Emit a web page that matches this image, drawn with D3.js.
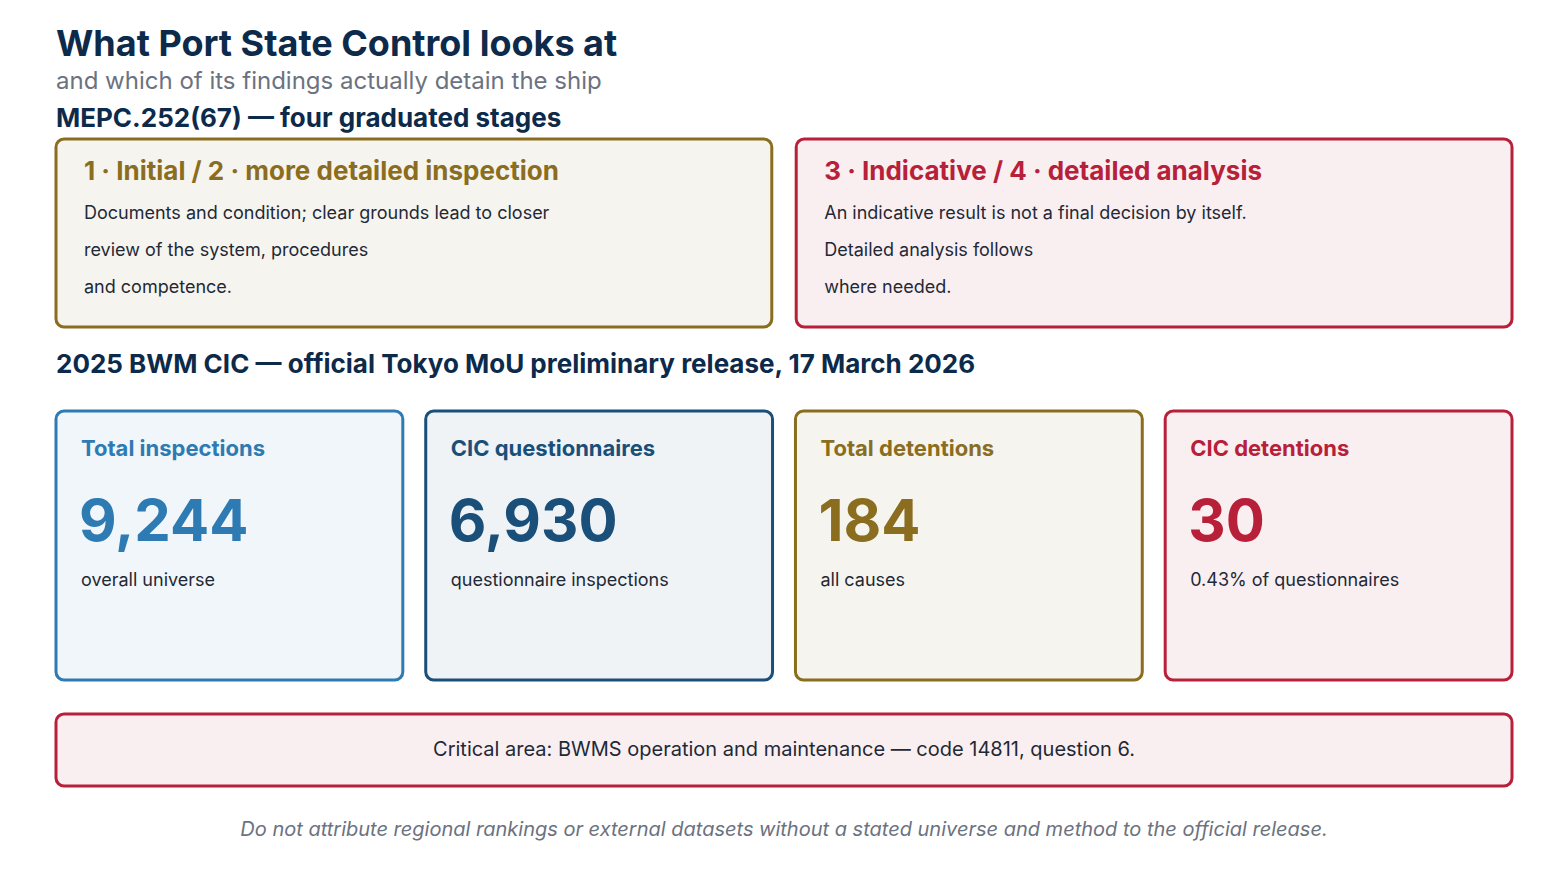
<!DOCTYPE html>
<html lang="en">
<head>
<meta charset="UTF-8">
<title>What Port State Control looks at</title>
<script src="https://d3js.org/d3.v7.min.js"></script>
<style>body{margin:0;background:#fff;font-family:Inter,"Noto Sans",sans-serif}</style>
</head>
<body>
<div id="chart"></div>
<script>
// data
var stageTitles = ["1 · Initial / 2 · more detailed inspection", "3 · Indicative / 4 · detailed analysis"];
var stageLines = [
  ["Documents and condition; clear grounds lead to closer", "review of the system, procedures", "and competence."],
  ["An indicative result is not a final decision by itself.", "Detailed analysis follows", "where needed."]
];
var cardLabels = ["Total inspections", "CIC questionnaires", "Total detentions", "CIC detentions"];
var cardValues = [9244, 6930, 184, 30];
var cardNotes = ["overall universe", "questionnaire inspections", "all causes", "0.43% of questionnaires"];

var navy = "#0d2a4a", gold = "#8a6d1e", red = "#b8203a", gray = "#6b7280";
var stageColors = [[gold, "#f6f4ef"], [red, "#f9eff1"]];
var cardColors = [["#2e7bb4", "#f1f6fa"], ["#1a4f7a", "#eff3f6"], [gold, "#f6f4ef"], [red, "#f9eff1"]];

var svg = d3.select("#chart").append("svg").attr("width", 1568).attr("height", 870);

svg.append("text").attr("x", 56).attr("y", 56).attr("font-size", 36).attr("font-weight", 700).attr("fill", navy).text("What Port State Control looks at");
svg.append("text").attr("x", 56).attr("y", 89).attr("font-size", 24).attr("fill", gray).text("and which of its findings actually detain the ship");
svg.append("text").attr("x", 56).attr("y", 127).attr("font-size", 26).attr("font-weight", 700).attr("fill", navy).text("MEPC.252(67) — four graduated stages");

var sx = d3.scaleBand().domain(d3.range(stageTitles.length)).range([56, 1512]).paddingInner(0.033);
var sg = svg.selectAll("g.stage").data(stageTitles).enter().append("g").attr("transform", function(d, i){ return "translate(" + sx(i) + ",139)"; });
sg.append("rect").attr("width", sx.bandwidth()).attr("height", 188).attr("rx", 8)
  .attr("fill", function(d, i){ return stageColors[i][1]; }).attr("stroke", function(d, i){ return stageColors[i][0]; }).attr("stroke-width", 3);
sg.append("text").attr("x", 28).attr("y", 41).attr("font-size", 26).attr("font-weight", 700).attr("fill", function(d, i){ return stageColors[i][0]; }).text(function(d){ return d; });
sg.each(function(d, i){
  d3.select(this).selectAll("text.l").data(stageLines[i]).enter().append("text").attr("class", "l")
    .attr("x", 28).attr("y", function(t, j){ return 80 + j * 37; }).attr("font-size", 18).attr("fill", "#1f2937").text(function(t){ return t; });
});

svg.append("text").attr("x", 56).attr("y", 373).attr("font-size", 26).attr("font-weight", 700).attr("fill", navy).text("2025 BWM CIC — official Tokyo MoU preliminary release, 17 March 2026");

var cx = d3.scaleBand().domain(d3.range(cardLabels.length)).range([56, 1512]).paddingInner(0.062);
var cg = svg.selectAll("g.card").data(cardLabels).enter().append("g").attr("transform", function(d, i){ return "translate(" + cx(i) + ",411)"; });
cg.append("rect").attr("width", cx.bandwidth()).attr("height", 269).attr("rx", 8)
  .attr("fill", function(d, i){ return cardColors[i][1]; }).attr("stroke", function(d, i){ return cardColors[i][0]; }).attr("stroke-width", 3);
cg.append("text").attr("x", 25).attr("y", 45).attr("font-size", 22).attr("font-weight", 700).attr("fill", function(d, i){ return cardColors[i][0]; }).text(function(d){ return d; });
cg.append("text").attr("x", 23).attr("y", 130).attr("font-size", 58).attr("font-weight", 700).attr("fill", function(d, i){ return cardColors[i][0]; }).text(function(d, i){ return d3.format(",")(cardValues[i]); });
cg.append("text").attr("x", 25).attr("y", 175).attr("font-size", 18).attr("fill", "#1f2937").text(function(d, i){ return cardNotes[i]; });

svg.append("rect").attr("x", 56).attr("y", 714).attr("width", 1456).attr("height", 72).attr("rx", 8).attr("fill", "#f9eff1").attr("stroke", red).attr("stroke-width", 3);
svg.append("text").attr("x", 784).attr("y", 756).attr("text-anchor", "middle").attr("font-size", 20).attr("fill", "#1f2937").text("Critical area: BWMS operation and maintenance — code 14811, question 6.");
svg.append("text").attr("x", 784).attr("y", 836).attr("text-anchor", "middle").attr("font-size", 20).attr("font-style", "italic").attr("fill", gray).text("Do not attribute regional rankings or external datasets without a stated universe and method to the official release.");
</script>
</body>
</html>
